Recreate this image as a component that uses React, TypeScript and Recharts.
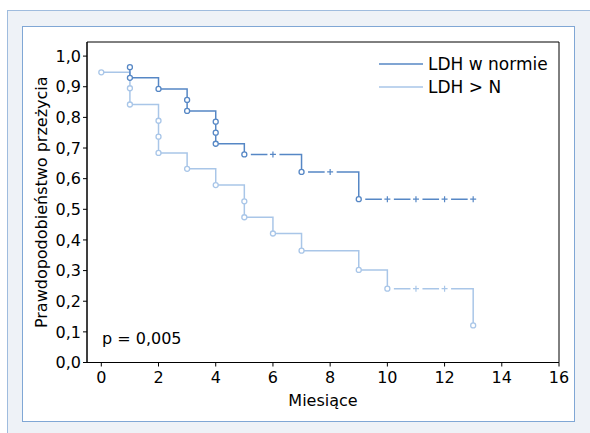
import React from 'react';
import {
  ComposedChart,
  Line,
  Scatter,
  XAxis,
  YAxis,
  ReferenceArea,
  Legend,
} from 'recharts';

// ---- data ----
const xTicks = [0, 2, 4, 6, 8, 10, 12, 14, 16];
const yTicks = [0, 0.1, 0.2, 0.3, 0.4, 0.5, 0.6, 0.7, 0.8, 0.9, 1.0];
const seriesNames = ['LDH w normie', 'LDH > N'];
const pValueText = 'p = 0,005';
const xLabel = 'Miesiące';
const yLabel = 'Prawdopodobieństwo przeżycia';

// LDH w normie
const normalEventTimes = [1, 1, 2, 3, 3, 4, 4, 4, 5, 7, 9];
const normalEventSurv = [0.964, 0.929, 0.893, 0.857, 0.821, 0.786, 0.75, 0.714, 0.679, 0.622, 0.533];
const normalCensorTimes = [6, 8, 10, 11, 12, 13];

// LDH > N
const highEventTimes = [0, 1, 1, 2, 2, 2, 3, 4, 5, 5, 6, 7, 9, 10, 13];
const highEventSurv = [0.947, 0.895, 0.842, 0.789, 0.737, 0.684, 0.632, 0.579, 0.526, 0.474, 0.421, 0.365, 0.302, 0.241, 0.121];
const highCensorTimes = [11, 12];

const DARK = '#5687C5';
const LIGHT = '#A9C6E8';
const FONT = '"DejaVu Sans", sans-serif';

type Pt = { x: number; y: number; censored: boolean; gap?: boolean };

function build(times: number[], surv: number[], censorTimes: number[]) {
  const events: Pt[] = times.map((t, i) => ({ x: t, y: surv[i], censored: false }));
  const censors: Pt[] = censorTimes.map((t) => {
    let s = 1;
    events.forEach((e) => {
      if (e.x <= t) s = e.y;
    });
    return { x: t, y: s, censored: true };
  });
  const all = [...events, ...censors].sort((a, b) => a.x - b.x);
  all.forEach((p, i) => {
    if (!p.censored && all[i + 1] && all[i + 1].censored) p.gap = true;
  });
  return { line: all, events: all.filter((p) => !p.censored), censors: all.filter((p) => p.censored) };
}

const normal = build(normalEventTimes, normalEventSurv, normalCensorTimes);
const high = build(highEventTimes, highEventSurv, highCensorTimes);

const circleShape = (color: string) => (props: any) => {
  const { cx, cy, payload } = props;
  if (cx == null || cy == null) return <g />;
  return (
    <g>
      {payload && payload.gap ? (
        <rect x={cx + 2.5} y={cy - 2.5} width={4} height={5} fill="#fff" />
      ) : null}
      <circle cx={cx} cy={cy} r={2.5} fill="#fff" stroke={color} strokeWidth={1.3} />
    </g>
  );
};

const plusShape = (color: string) => (props: any) => {
  const { cx, cy } = props;
  if (cx == null || cy == null) return <g />;
  return (
    <g>
      <rect x={cx - 5.5} y={cy - 2.5} width={12} height={5} fill="#fff" />
      <line x1={cx - 3} x2={cx + 3} y1={cy} y2={cy} stroke={color} strokeWidth={1.2} />
      <line x1={cx} x2={cx} y1={cy - 3} y2={cy + 3} stroke={color} strokeWidth={1.2} />
    </g>
  );
};

const legendColors = [DARK, LIGHT];

const renderLegend = () => (
  <div style={{ fontFamily: FONT, fontSize: 17, color: '#000' }}>
    {seriesNames.map((name, i) => (
      <div key={name} style={{ display: 'flex', alignItems: 'center', height: 22.5 }}>
        <svg width={44} height={4} style={{ display: 'block' }}>
          <line x1={0} x2={44} y1={2} y2={2} stroke={legendColors[i]} strokeWidth={1.5} />
        </svg>
        <span style={{ marginLeft: 5, lineHeight: '22px', whiteSpace: 'nowrap' }}>{name}</span>
      </div>
    ))}
  </div>
);

export default function App() {
  return (
    <div style={{ position: 'absolute', left: 0, top: 0, width: 590, height: 433, overflow: 'hidden', background: '#fff' }}>
      <div
        style={{
          position: 'absolute',
          left: 7,
          top: 10,
          width: 583,
          height: 423,
          boxSizing: 'border-box',
          background: '#EEF2F7',
          borderLeft: '1px solid #9FBCDE',
          borderTop: '1px solid #9FBCDE',
        }}
      />
      <div
        style={{
          position: 'absolute',
          left: 22,
          top: 26,
          width: 553,
          height: 396,
          boxSizing: 'border-box',
          background: '#fff',
          border: '1px solid #80A7D5',
        }}
      />
      <div style={{ position: 'absolute', left: 0, top: 0 }}>
        <ComposedChart width={590} height={433} margin={{ top: 42, right: 31, bottom: 20.5, left: 27 }}>
          <XAxis
            type="number"
            dataKey="x"
            domain={[-0.5, 16]}
            ticks={xTicks}
            interval={0}
            allowDataOverflow
            height={50}
            tickSize={4}
            tickMargin={5}
            axisLine={{ stroke: '#000' }}
            tickLine={{ stroke: '#000' }}
            tick={{ fill: '#000', fontSize: 16, fontFamily: FONT }}
            label={{ value: xLabel, position: 'insideBottom', offset: 7, fill: '#000', fontSize: 16, fontFamily: FONT }}
          />
          <YAxis
            type="number"
            dataKey="y"
            domain={[0, 1.046]}
            ticks={yTicks}
            interval={0}
            allowDataOverflow
            width={60}
            tickSize={4}
            tickMargin={2}
            tickFormatter={(v: number) => v.toFixed(1).replace('.', ',')}
            axisLine={{ stroke: '#000' }}
            tickLine={{ stroke: '#000' }}
            tick={{ fill: '#000', fontSize: 16, fontFamily: FONT }}
            label={{
              value: yLabel,
              angle: -90,
              position: 'insideLeft',
              offset: 14,
              fill: '#000',
              fontSize: 16,
              fontFamily: FONT,
              style: { textAnchor: 'middle' },
            }}
          />
          <ReferenceArea x1={-0.5} x2={16} y1={0} y2={1.046} fill="none" stroke="#000" strokeWidth={1} ifOverflow="visible" />
          <Line
            data={high.line}
            dataKey="y"
            type="stepAfter"
            stroke={LIGHT}
            strokeWidth={1.5}
            dot={false}
            activeDot={false}
            isAnimationActive={false}
            name={seriesNames[1]}
          />
          <Line
            data={normal.line}
            dataKey="y"
            type="stepAfter"
            stroke={DARK}
            strokeWidth={1.5}
            dot={false}
            activeDot={false}
            isAnimationActive={false}
            name={seriesNames[0]}
          />
          <Scatter data={high.events} dataKey="y" shape={circleShape(LIGHT)} isAnimationActive={false} />
          <Scatter data={high.censors} dataKey="y" shape={plusShape(LIGHT)} isAnimationActive={false} />
          <Scatter data={normal.events} dataKey="y" shape={circleShape(DARK)} isAnimationActive={false} />
          <Scatter data={normal.censors} dataKey="y" shape={plusShape(DARK)} isAnimationActive={false} />
          <Legend
            content={renderLegend}
            layout="horizontal"
            verticalAlign="middle"
            align="center"
            wrapperStyle={{ position: 'absolute', left: 379, top: 53, width: 'auto' }}
          />
        </ComposedChart>
      </div>
      <div
        style={{
          position: 'absolute',
          left: 102,
          top: 330,
          fontFamily: FONT,
          fontSize: 16,
          lineHeight: '18px',
          color: '#000',
          whiteSpace: 'pre',
        }}
      >
        {pValueText}
      </div>
    </div>
  );
}
